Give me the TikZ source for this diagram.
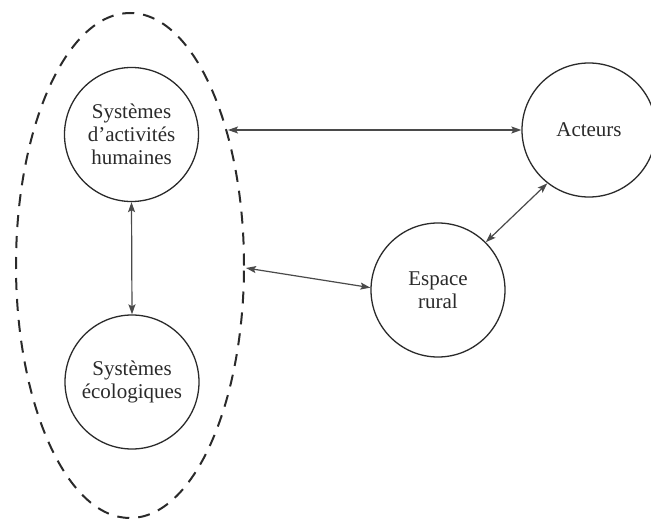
\documentclass[tikz,border=0pt]{standalone}
\usepackage{fontspec}
\setmainfont{Liberation Serif}
\usetikzlibrary{arrows.meta,shapes.geometric}
\definecolor{ink}{HTML}{2A2A2A}
\definecolor{arr}{HTML}{4A4A4A}
\tikzset{
  bubble/.style={circle,draw=ink,line width=1.3pt,minimum size=134pt,inner sep=0pt,align=center,
    font=\fontsize{21}{23}\selectfont,text=ink},
  group/.style={ellipse,draw=ink,line width=2pt,dash pattern=on 12pt off 9pt,inner sep=0pt,
    minimum width=228pt,minimum height=505pt},
  link/.style={draw=arr,line width=1.2pt,{Stealth[length=10pt,width=7pt,inset=2pt]}-{Stealth[length=10pt,width=7pt,inset=2pt]}}
}
\begin{document}
\begin{tikzpicture}[x=1pt,y=-1pt]
\useasboundingbox (0,0) rectangle (651,519);
\node[group] (grp) at (130,265.5) {};
\node[bubble] (sah) at (131.5,134.5) {Systèmes\\d’activités\\humaines};
\node[bubble] (eco) at (132,382) {Systèmes\\écologiques};
\node[bubble] (act) at (589,130) {Acteurs};
\node[bubble] (esp) at (438,290) {Espace\\rural};
\coordinate (l1) at (228,130);
\coordinate (l2) at (246,268);
\draw[link] (sah.south) -- (eco.north);
\draw[link] (l1) -- (act.west);
\draw[link] (l2) -- (esp.178);
\draw[link] (esp.45) -- (act.232);
\end{tikzpicture}
\end{document}
